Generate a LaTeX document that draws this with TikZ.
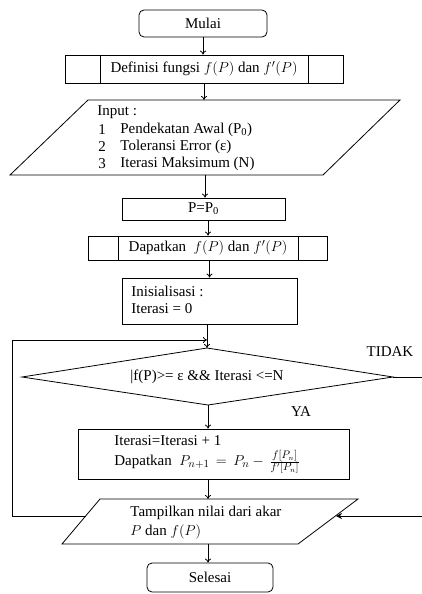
\documentclass[tikz,border=0pt]{standalone}
\usepackage{fontspec}
\setmainfont{Liberation Serif}
\usetikzlibrary{arrows.meta}
\begin{document}
\begin{tikzpicture}[x=1pt,y=-1pt,line width=0.8pt,
  font=\fontsize{15}{18}\selectfont,
  boxx/.style={draw,inner sep=0pt,minimum width=#1},
  termbox/.style={draw,rounded corners=5pt,inner sep=0pt,minimum width=#1},
  txt/.style={inner sep=0pt,anchor=west},
  arr/.style={-{To[length=4pt,width=6pt]}},
  farr/.style={-{Stealth[length=6pt,width=6pt]}}]
\useasboundingbox (0,0) rectangle (422,594);

% Mulai
\node[termbox=128pt,minimum height=27pt] (mulai) at (203,23.5) {Mulai};
% Definisi (predefined process)
\node[boxx=278pt,minimum height=28pt] (def) at (204,69) {};
\draw ([xshift=-104pt]def.north) -- ([xshift=-104pt]def.south)
      ([xshift=104pt]def.north) -- ([xshift=104pt]def.south);
\node[inner sep=0pt] (deft) at (204,69) {Definisi fungsi $f(P)$ dan $f'(P)$};

% Input parallelogram
\draw (88,100) -- (400,100) -- (323,175) -- (10,175) -- cycle;
\coordinate (intop) at (205,100);
\coordinate (inbot) at (205,175);
\node[txt] (in0) at (97,112) {Input :};
\node[txt] (in1n) at (98,130) {1};
\node[txt] (in1) at (120,130) {Pendekatan Awal (P\textsubscript{0})};
\node[txt] (in2n) at (98,147) {2};
\node[txt] (in2) at (120,147) {Toleransi Error (ε)};
\node[txt] (in3n) at (98,164) {3};
\node[txt] (in3) at (120,164) {Iterasi Maksimum (N)};

% P=P0
\node[boxx=163pt,minimum height=22pt] (pp) at (203.5,209) {P=P\textsubscript{0}};
% Dapatkan
\node[boxx=239pt,minimum height=24pt] (dap) at (207.5,248) {};
\draw ([xshift=-89.5pt]dap.north) -- ([xshift=-89.5pt]dap.south)
      ([xshift=90.5pt]dap.north) -- ([xshift=90.5pt]dap.south);
\node[inner sep=0pt] (dapt) at (208,248) {Dapatkan \ $f(P)$ dan $f'(P)$};

% Inisialisasi
\node[boxx=175pt,minimum height=46pt] (ini) at (209.5,301) {};
\node[txt] (ini1) at (131,291) {Inisialisasi :};
\node[txt] (ini2) at (131,309) {Iterasi = 0};

% Decision diamond
\coordinate (dtop) at (207,348);
\coordinate (dright) at (393,377);
\coordinate (dbot) at (208,405);
\coordinate (dleft) at (22,377);
\draw (dtop) -- (dright) -- (dbot) -- (dleft) -- cycle;
\node[inner sep=0pt] (cond) at (207,377) {|f(P)>= ε \&\& Iterasi <=N};
\node[inner sep=0pt] (tidak) at (390,352) {TIDAK};
\node[inner sep=0pt] (ya) at (301,412) {YA};

% Iterasi box
\node[boxx=271pt,minimum height=50pt] (iter) at (213.5,454) {};
\node[txt] (it1) at (114,441) {Iterasi=Iterasi + 1};
\node[txt] (it2) at (114,462) {Dapatkan \ $P_{n+1}\,=\,P_n-\,\frac{f[P_n]}{f'[P_n]}$};

% Output parallelogram
\draw (100,499) -- (358,499) -- (298,544) -- (62,544) -- cycle;
\coordinate (otop) at (208,499);
\coordinate (obot) at (208,544);
\coordinate (oleft) at (86,516);
\coordinate (oright) at (336,516);
\node[txt] (o1) at (130,513) {Tampilkan nilai dari akar};
\node[txt] (o2) at (130,532) {$P$ dan $f(P)$};

% Selesai
\node[termbox=126pt,minimum height=29pt] (selesai) at (210,577.5) {Selesai};

% connectors
\draw[arr] (mulai.south) -- (mulai.south |- def.north);
\draw[arr] (def.south) -- (def.south |- intop);
\draw[arr] (inbot) -- (inbot |- pp.north);
\draw[arr] (pp.south -| dapt.north) -- (dap.north -| dapt.north);
\draw[arr] (dap.south -| ini.north) -- (ini.north);
\draw[arr] (ini.south -| dtop) -- (dtop);
\coordinate (lp1) at (12,516);
\coordinate (lp2) at (12,340);
\coordinate (lpend) at (207,340);
\draw[arr] (oleft) -- (lp1) -- (lp2) -- (lpend);
\draw[arr] (dbot) -- (dbot |- iter.north);
\draw[arr] (iter.south -| otop) -- (otop);
\draw[arr] (obot) -- (obot |- selesai.north);
\coordinate (rt1) at (426,377);
\coordinate (rt2) at (426,516);
\draw[farr] (dright) -- (rt1) -- (rt2) -- (oright);
\end{tikzpicture}
\end{document}
